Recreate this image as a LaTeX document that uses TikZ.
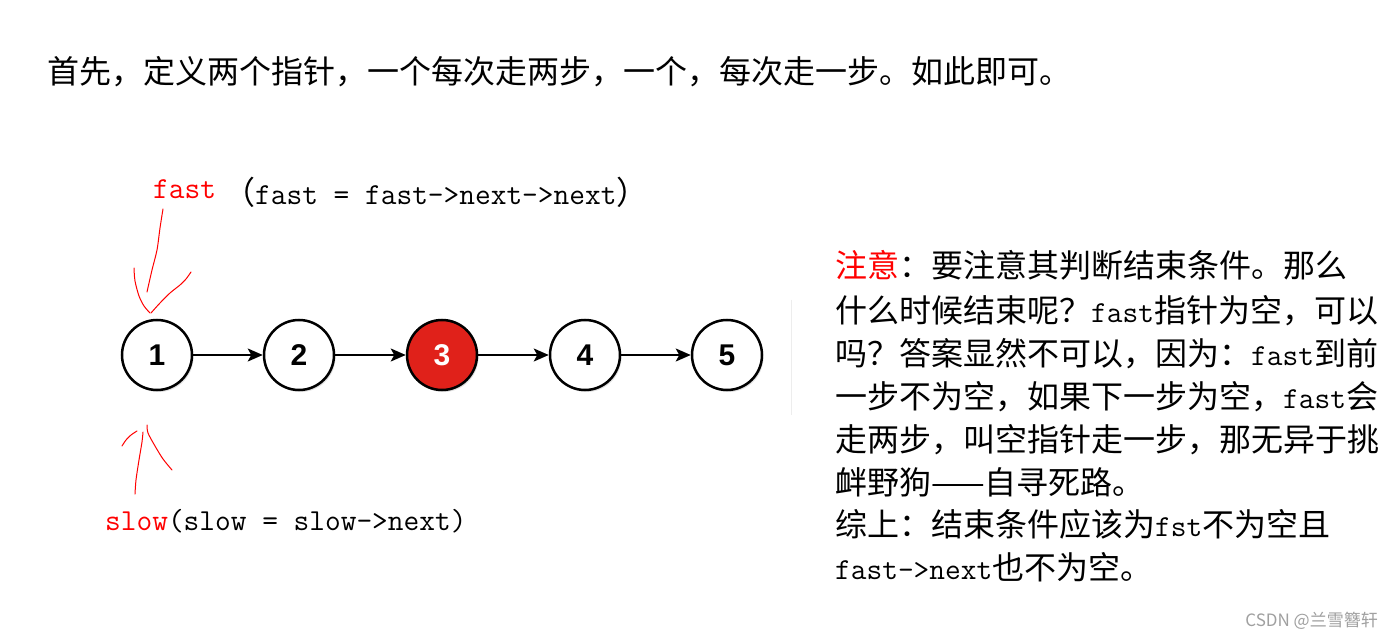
\documentclass[tikz,border=0pt]{standalone}
\usepackage{fontspec}
\newfontfamily\cjk{Noto Sans CJK SC}
\newfontfamily\digitfont{Liberation Sans}
\usetikzlibrary{arrows.meta,shadows}
\definecolor{nodered}{RGB}{224,33,26}
\definecolor{inkred}{RGB}{255,0,0}
\definecolor{wmgray}{RGB}{160,160,160}
\newcommand\lat[1]{{\ttfamily\fontsize{30.5}{32}\selectfont #1}}
\newcommand\redtxt[1]{{\color{inkred}#1}}
\tikzset{
  cjktext/.style={font=\cjk\fontsize{32}{43}\selectfont, inner sep=0pt, anchor=base west},
  listnode/.style={circle, draw=black, line width=2.5pt, minimum size=70pt, fill=white,
    font=\digitfont\bfseries\fontsize{30}{30}\selectfont,
    drop shadow={opacity=0.25, shadow xshift=1.5pt, shadow yshift=-2pt}},
  link/.style={line width=2pt, -{Stealth[length=15pt,width=13pt,inset=3.5pt]}},
  hand/.style={inkred, line width=1pt, line cap=round, line join=round}
}
\begin{document}
\begin{tikzpicture}[x=1pt,y=-1pt]
\fill[white] (0,0) rectangle (1393,639);
\useasboundingbox (0,0) rectangle (1393,639);

% title
\node[cjktext] (title) at (47,84) {首先，定义两个指针，一个每次走两步，一个，每次走一步。如此即可。};

% list nodes
\node[listnode] (n1) at (157,355) {1};
\node[listnode] (n2) at (299,355) {2};
\node[listnode, fill=nodered, text=white] (n3) at (442,355) {3};
\node[listnode] (n4) at (585,355) {4};
\node[listnode] (n5) at (727,355) {5};
\draw[link] (n1) -- (n2);
\draw[link] (n2) -- (n3);
\draw[link] (n3) -- (n4);
\draw[link] (n4) -- (n5);

% fast label
\node[cjktext] (fastname) at (153,199) {\redtxt{\lat{fast}}};
\node[cjktext] (fastcode) at (223,205) {（\lat{fast = fast->next->next}）};
\draw[hand] plot[smooth] coordinates {(163,209) (160,228) (157,250) (152,270) (147,292)};
\draw[hand] plot[smooth] coordinates {(134,268) (135,281) (139,296) (144,306) (150,313)};
\draw[hand] plot[smooth] coordinates {(191,272) (186,279) (180,285) (170,293) (160,303) (151,313)};

% slow label
\node[cjktext] (slowlabel) at (105,530) {\redtxt{\lat{slow}}\lat{(slow = slow->next)}};
\draw[hand] plot[smooth] coordinates {(135,494) (136,480) (139,460) (142,442) (143,432)};
\draw[hand] plot[smooth] coordinates {(122,446) (126,440) (131,435) (137,431)};
\draw[hand] plot[smooth] coordinates {(147,425) (148,433) (155,446) (163,459) (172,470)};

% faint separator
\draw[black!7, line width=1pt] (791,300) -- (791,415);

% note text
\node[cjktext] (l1) at (835,278) {\redtxt{注意}：要注意其判断结束条件。那么};
\node[cjktext] (l2) at (835,322) {什么时候结束呢？\lat{fast}指针为空，可以};
\node[cjktext] (l3) at (835,365) {吗？答案显然不可以，因为：\lat{fast}到前};
\node[cjktext] (l4) at (835,408) {一步不为空，如果下一步为空，\lat{fast}会};
\node[cjktext] (l5) at (835,451) {走两步，叫空指针走一步，那无异于挑};
\node[cjktext] (l6) at (835,494) {衅野狗——自寻死路。};
\node[cjktext] (l7) at (835,536) {综上：结束条件应该为\lat{fst}不为空且};
\node[cjktext] (l8) at (835,579) {\lat{fast->next}也不为空。};

% watermark
\node[font=\cjk\fontsize{17}{17}\selectfont, text=wmgray, inner sep=0pt, anchor=base east] (wm) at (1378,626) {CSDN @兰雪簪轩};
\end{tikzpicture}
\end{document}
